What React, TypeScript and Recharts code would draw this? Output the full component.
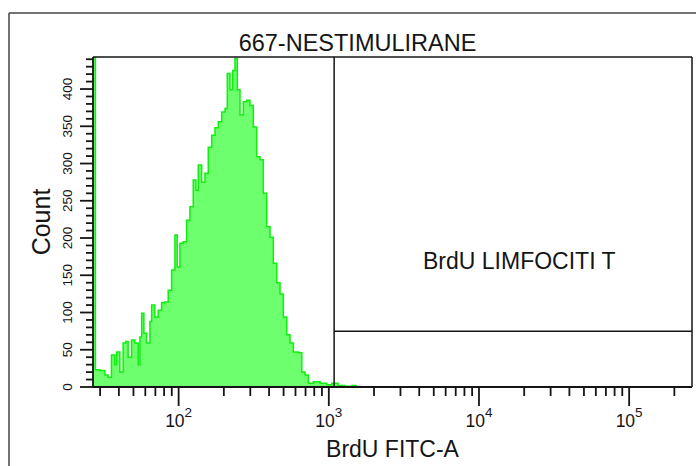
import React from 'react';
import { ComposedChart, Area, XAxis, YAxis, ReferenceLine, ReferenceDot, Label } from 'recharts';

// FITC-A channel value of each histogram bin (log axis)
const fitcValues = [
  26.9, 27.9, 29.9, 32.3, 33.9, 35.7, 37.6, 38.6, 40.6, 42.7,
  44.5, 46.1, 48.6, 51.1, 53.8, 55.2, 56.7, 58.7, 61.2, 64.4,
  66.1, 69.5, 73.1, 77.0, 81.0, 85.2, 89.8, 94.5, 97.9, 102,
  107.3, 113.1, 118.9, 125.1, 130.4, 135.1, 142.3, 149.7, 157.5, 166,
  174.6, 183.7, 193.5, 203.6, 210.9, 219.8, 229.1, 237.3, 245.9, 256.3,
  269.6, 284, 298.7, 314.4, 331.1, 348.3, 366.4, 386.1, 406.1, 427.2,
  450.2, 473.5, 498.1, 524.8, 552.1, 580.8, 627, 660.7, 695, 731.1,
  789.3, 874.9, 969.8, 1047, 1153, 1284, 1430, 1520, 262144,
];
// Event counts per bin (first bin is off-scale low, clipped at the top)
const counts = [
  2000, 23, 22, 16, 13, 43, 30, 47, 20, 59,
  61, 40, 63, 59, 30, 67, 99, 72, 59, 88,
  110, 94, 103, 113, 114, 130, 157, 204, 161, 193,
  195, 224, 242, 278, 264, 298, 275, 287, 322, 338,
  348, 356, 369, 374, 421, 399, 425, 441, 399, 365,
  383, 385, 378, 349, 309, 305, 260, 215, 201, 166,
  140, 125, 94, 70, 59, 47, 46, 20, 16, 5,
  7, 5, 3, 5, 2, 1, 2, 0, 0,
];

const xTicks = [
  30, 40, 50, 60, 70, 80, 90,
  100, 200, 300, 400, 500, 600, 700, 800, 900,
  1000, 2000, 3000, 4000, 5000, 6000, 7000, 8000, 9000,
  10000, 20000, 30000, 40000, 50000, 60000, 70000, 80000, 90000,
  100000, 200000,
];
const xLabelValues = [100, 1000, 10000, 100000];
const xLabelExponents = ['2', '3', '4', '5'];
const xDomain = [26.9, 262144];

const yTicks = [
  0, 10, 20, 30, 40, 50, 60, 70, 80, 90, 100, 110, 120, 130, 140, 150,
  160, 170, 180, 190, 200, 210, 220, 230, 240, 250, 260, 270, 280, 290,
  300, 310, 320, 330, 340, 350, 360, 370, 380, 390, 400, 410, 420, 430, 440,
];
const yLabelValues = [0, 50, 100, 150, 200, 250, 300, 350, 400];
const yDomain = [0, 443];

const gateLeft = 1085;
const gateBottom = 75;
const gateLabelX = 18560;
const gateLabelY = 169;
const gateLabel = 'BrdU LIMFOCITI T';

const title = '667-NESTIMULIRANE';
const xTitle = 'BrdU FITC-A';
const yTitle = 'Count';

const data = fitcValues.map((v, i) => ({ fitc: v, count: counts[i] }));

const INK = '#151515';
const FONT = '"Liberation Sans", Arial, Helvetica, sans-serif';

const XTick = (props: any) => {
  const { x, y, payload } = props;
  const idx = xLabelValues.indexOf(payload.value);
  const major = idx >= 0;
  return (
    <g>
      <line x1={x} x2={x} y1={y} y2={y + (major ? 19 : 9)} stroke={INK} strokeWidth={1.8} />
      {major && (
        <text x={x} y={y + 40} textAnchor="middle" fontSize={17.5} fill={INK} fontFamily={FONT}>
          10
          <tspan dy={-10} fontSize={13.5}>{xLabelExponents[idx]}</tspan>
        </text>
      )}
    </g>
  );
};

const YTick = (props: any) => {
  const { x, y, payload } = props;
  const major = yLabelValues.indexOf(payload.value) >= 0;
  return (
    <g>
      <line x1={x} x2={x - (major ? 13 : 7)} y1={y} y2={y} stroke={INK} strokeWidth={1.8} />
      {major && (
        <text
          transform={`translate(${x - 26},${y}) rotate(-90)`}
          textAnchor="middle"
          dy="0.36em"
          fontSize={13.5}
          fill={INK}
          fontFamily={FONT}
        >
          {payload.value}
        </text>
      )}
    </g>
  );
};

const XTitle = (props: any) => {
  const vb = props.viewBox;
  return (
    <text x={vb.x + vb.width / 2} y={vb.y + 70} textAnchor="middle" fontSize={23} fill={INK} fontFamily={FONT}>
      {xTitle}
    </text>
  );
};

const YTitle = (props: any) => {
  const vb = props.viewBox;
  const cx = vb.x + 33;
  const cy = vb.y + vb.height / 2;
  return (
    <text
      transform={`translate(${cx},${cy}) rotate(-90)`}
      textAnchor="middle"
      dy="0.36em"
      fontSize={25}
      fill={INK}
      fontFamily={FONT}
    >
      {yTitle}
    </text>
  );
};

export default function App() {
  return (
    <div style={{ position: 'absolute', left: 0, top: 0, width: 696, height: 466, background: '#fff', fontFamily: FONT }}>
      <ComposedChart width={696} height={466} data={data} margin={{ top: 57, right: 4, left: 8, bottom: 49 }}>
        <XAxis
          dataKey="fitc"
          type="number"
          scale="log"
          domain={xDomain}
          allowDataOverflow
          ticks={xTicks}
          interval={0}
          tick={<XTick />}
          tickLine={false}
          tickSize={0}
          tickMargin={0}
          height={30}
          axisLine={{ stroke: INK, strokeWidth: 1.8 }}
        >
          <Label content={<XTitle />} />
        </XAxis>
        <YAxis
          type="number"
          domain={yDomain}
          allowDataOverflow
          ticks={yTicks}
          interval={0}
          tick={<YTick />}
          tickLine={false}
          tickSize={0}
          tickMargin={0}
          width={85}
          axisLine={{ stroke: INK, strokeWidth: 1.8 }}
        >
          <Label content={<YTitle />} />
        </YAxis>
        <Area
          dataKey="count"
          type="stepAfter"
          stroke="#0ff00f"
          strokeWidth={1.5}
          fill="#6eff6e"
          fillOpacity={1}
          isAnimationActive={false}
          dot={false}
          activeDot={false}
        />
        <ReferenceLine y={yDomain[1]} stroke={INK} strokeWidth={1.5} />
        <ReferenceLine x={xDomain[1]} stroke={INK} strokeWidth={1.5} />
        <ReferenceLine x={gateLeft} stroke={INK} strokeWidth={1.5} />
        <ReferenceLine
          segment={[{ x: gateLeft, y: gateBottom }, { x: xDomain[1], y: gateBottom }]}
          stroke={INK}
          strokeWidth={1.5}
        />
        <ReferenceDot
          x={gateLabelX}
          y={gateLabelY}
          r={0}
          fill="none"
          stroke="none"
          label={{ value: gateLabel, position: 'center', fontSize: 23, fill: INK, fontFamily: FONT }}
        />
      </ComposedChart>
      <svg width={696} height={466} style={{ position: 'absolute', left: 0, top: 0, pointerEvents: 'none' }}>
        <line x1={9} y1={13} x2={9} y2={466} stroke="#444" strokeWidth={1.5} />
        <line x1={9} y1={13} x2={696} y2={13} stroke="#444" strokeWidth={1.5} />
        <text x={357.5} y={51} textAnchor="middle" fontSize={23.5} fill={INK} fontFamily={FONT}>
          {title}
        </text>
      </svg>
    </div>
  );
}
